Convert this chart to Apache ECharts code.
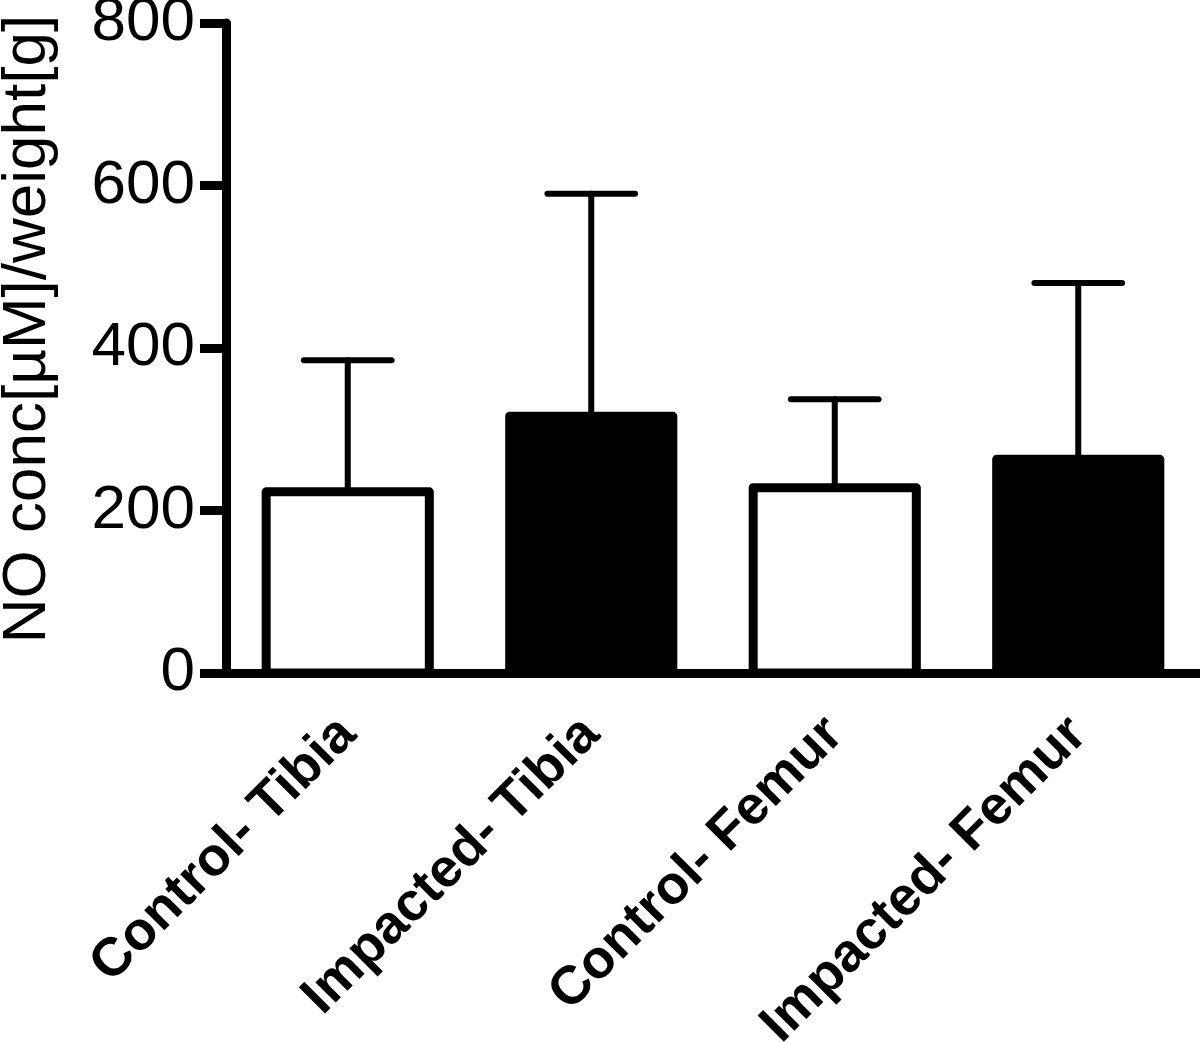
<!DOCTYPE html>
<html>
<head>
<meta charset="utf-8">
<script src="https://cdn.jsdelivr.net/npm/echarts@6/dist/echarts.min.js"></script>
<style>
  html, body { margin: 0; padding: 0; background: #fff; }
  #chart { width: 1200px; height: 1043px; }
</style>
</head>
<body>
<div id="chart"></div>
<script>
const categories = ['Control- Tibia', 'Impacted- Tibia', 'Control- Femur', 'Impacted- Femur']
const means = [223, 316, 228, 263]
const errors = [162, 274, 109, 217]
const fills = ['#ffffff', '#000000', '#ffffff', '#000000']
const yTicks = [0, 200, 400, 600, 800]

const FONT = '"Liberation Sans", Arial, Helvetica, sans-serif'
const chart = echarts.init(document.getElementById('chart'))

// bars drawn as custom rects so the outline sits centred on the value, like the original
const renderBar = (params, api) => {
  const top = api.coord([api.value(0), api.value(1)])
  const zero = api.coord([api.value(0), 0])
  const w = api.size([1, 0])[0] * 0.67
  return {
    type: 'rect',
    shape: { x: top[0] - w / 2, y: top[1], width: w, height: zero[1] - top[1] },
    style: { fill: fills[params.dataIndex], stroke: '#000', lineWidth: 9, lineJoin: 'round' }
  }
}

const renderError = (params, api) => {
  const base = api.coord([api.value(0), api.value(1)])
  const top = api.coord([api.value(0), api.value(2)])
  const half = api.size([1, 0])[0] * 0.18
  const style = { stroke: '#000', lineWidth: 6, lineCap: 'round' }
  return {
    type: 'group',
    children: [
      { type: 'line', shape: { x1: base[0], y1: base[1], x2: top[0], y2: top[1] }, style },
      { type: 'line', shape: { x1: top[0] - half, y1: top[1], x2: top[0] + half, y2: top[1] }, style }
    ]
  }
}

const option = {
  backgroundColor: '#fff',
  animation: false,
  grid: { left: 226, right: 0, top: 23, bottom: 370, outerBoundsMode: 'none' },
  xAxis: {
    type: 'category',
    data: categories,
    z: 5,
    axisLine: { lineStyle: { color: '#000', width: 9 } },
    axisTick: { alignWithLabel: true, length: 26, lineStyle: { color: '#000', width: 9 } },
    axisLabel: {
      rotate: 45,
      margin: 53,
      color: '#000',
      fontSize: 54,
      fontWeight: 'bold',
      fontFamily: FONT
    }
  },
  yAxis: {
    type: 'value',
    min: yTicks[0],
    max: yTicks[yTicks.length - 1],
    interval: 200,
    splitLine: { show: false },
    axisLine: { show: true, lineStyle: { color: '#000', width: 9 } },
    axisTick: { show: true, length: 26, lineStyle: { color: '#000', width: 9 } },
    axisLabel: {
      margin: 31,
      color: '#000',
      fontSize: 62,
      fontFamily: FONT
    }
  },
  graphic: [{
    type: 'text',
    x: 28,
    y: 329,
    rotation: Math.PI / 2,
    style: {
      text: 'NO conc[µM]/weight[g]',
      x: 0,
      y: 0,
      align: 'center',
      verticalAlign: 'middle',
      fontSize: 62,
      fontFamily: FONT,
      fill: '#000'
    }
  }],
  series: [
    {
      type: 'custom',
      z: 1,
      data: means.map((v, i) => [i, v]),
      encode: { x: 0, y: 1 },
      renderItem: renderBar
    },
    {
      type: 'custom',
      z: 3,
      data: means.map((v, i) => [i, v, v + errors[i]]),
      encode: { x: 0, y: [1, 2] },
      renderItem: renderError
    }
  ]
}

chart.setOption(option)
</script>
</body>
</html>
